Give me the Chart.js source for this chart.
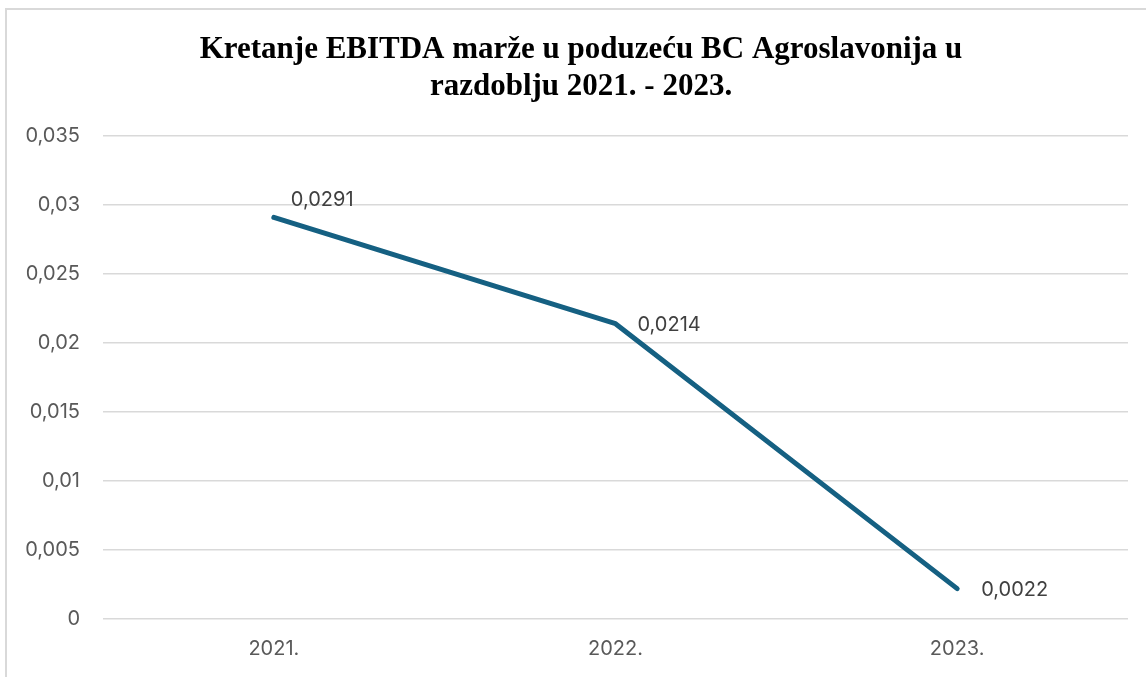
<!DOCTYPE html>
<html>
<head>
<meta charset="utf-8">
<script src="https://cdn.jsdelivr.net/npm/chart.js@4/dist/chart.umd.min.js"></script>
<style>
  html, body { margin: 0; padding: 0; background: #fff; overflow: hidden; }
  #frame { position: absolute; left: 5px; top: 8px; width: 1200px; height: 720px; border: 2px solid #d9d9d9; }
  #chart { position: absolute; left: 0; top: 0; }
</style>
</head>
<body>
<div id="frame"></div>
<canvas id="chart" width="1146" height="677"></canvas>
<script>
// Chart data
const years = ['2021.', '2022.', '2023.'];
const ebitdaMargin = [0.0291, 0.0214, 0.0022];
const valueLabels = ['0,0291', '0,0214', '0,0022'];
const yTickLabels = ['0', '0,005', '0,01', '0,015', '0,02', '0,025', '0,03', '0,035'];
const titleLines = ['Kretanje EBITDA marže u poduzeću BC Agroslavonija u', 'razdoblju 2021. - 2023.'];

const lineColor = '#156082';
const labelFont = '20px Inter, "Liberation Sans", sans-serif';

// where each value label sits relative to its point (dx, dy)
const labelOffsets = [[17, -17], [22, 1], [24, 1]];

// title drawn by hand (centred a bit right of the canvas, like the original)
const titlePlugin = {
    id: 'twoLineTitle',
    afterDraw(chart) {
        const ctx = chart.ctx;
        ctx.save();
        ctx.font = 'bold 31px "Liberation Serif", "Times New Roman", serif';
        ctx.fillStyle = '#000';
        ctx.textAlign = 'center';
        ctx.textBaseline = 'alphabetic';
        ctx.fillText(titleLines[0], 581, 58);
        ctx.fillText(titleLines[1], 581, 95);
        ctx.restore();
    }
};

// value labels next to each point
const valueLabelPlugin = {
    id: 'valueLabels',
    afterDatasetsDraw(chart) {
        const ctx = chart.ctx;
        const meta = chart.getDatasetMeta(0);
        ctx.save();
        ctx.font = labelFont;
        ctx.fillStyle = '#404040';
        ctx.textAlign = 'left';
        ctx.textBaseline = 'middle';
        meta.data.forEach((pt, i) => {
            const off = labelOffsets[i];
            ctx.fillText(valueLabels[i], pt.x + off[0], pt.y + off[1]);
        });
        ctx.restore();
    }
};

const ctx = document.getElementById('chart').getContext('2d');
new Chart(ctx, {
    type: 'line',
    data: {
        labels: years,
        datasets: [{
            data: ebitdaMargin,
            borderColor: lineColor,
            borderWidth: 5,
            borderCapStyle: 'round',
            borderJoinStyle: 'round',
            pointRadius: 0,
            tension: 0,
            fill: false
        }]
    },
    options: {
        responsive: false,
        animation: false,
        layout: { padding: { top: 136, right: 18, bottom: 0, left: 0 } },
        plugins: {
            legend: { display: false },
            title: { display: false },
            tooltip: { enabled: false }
        },
        scales: {
            x: {
                offset: true,
                grid: { display: false, drawTicks: false },
                border: { display: false },
                ticks: {
                    padding: 18,
                    color: '#595959',
                    font: { family: 'Inter, "Liberation Sans", sans-serif', size: 20 }
                },
                afterFit(scale) { scale.height = 58; }
            },
            y: {
                min: 0,
                max: 0.035,
                grid: { color: '#d9d9d9', lineWidth: 1.5, drawTicks: false },
                border: { display: false },
                ticks: {
                    stepSize: 0.005,
                    padding: 23,
                    color: '#595959',
                    font: { family: 'Inter, "Liberation Sans", sans-serif', size: 20 },
                    callback: (v, i) => yTickLabels[i]
                },
                afterFit(scale) { scale.width = 103; }
            }
        }
    },
    plugins: [titlePlugin, valueLabelPlugin]
});
</script>
</body>
</html>
